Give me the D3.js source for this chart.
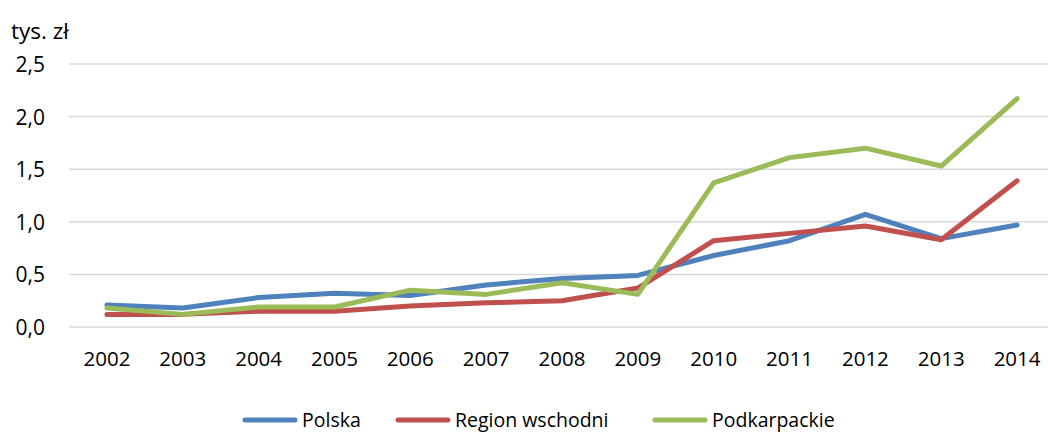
<!DOCTYPE html>
<html>
<head>
<meta charset="utf-8">
<script src="https://cdn.jsdelivr.net/npm/d3@7"></script>
<style>
  body { margin: 0; background: #fff; }
  text { font-family: "Open Sans", "Noto Sans", sans-serif; fill: #000; }
</style>
</head>
<body>
<svg id="chart" width="1048" height="432"></svg>
<script>
const years = ["2002","2003","2004","2005","2006","2007","2008","2009","2010","2011","2012","2013","2014"];
const polska = [0.21, 0.18, 0.28, 0.32, 0.30, 0.40, 0.46, 0.49, 0.68, 0.82, 1.07, 0.84, 0.97];
const regionWschodni = [0.12, 0.12, 0.15, 0.15, 0.20, 0.23, 0.25, 0.37, 0.82, 0.89, 0.96, 0.83, 1.39];
const podkarpackie = [0.18, 0.12, 0.19, 0.19, 0.35, 0.31, 0.42, 0.31, 1.37, 1.61, 1.70, 1.53, 2.17];
const yTicks = [0, 0.5, 1.0, 1.5, 2.0, 2.5];

const series = [
  { name: "Polska", values: polska, color: "#4F81BD" },
  { name: "Region wschodni", values: regionWschodni, color: "#C0504D" },
  { name: "Podkarpackie", values: podkarpackie, color: "#9BBB59" }
];

const svg = d3.select("#chart");
const plotLeft = 69, plotRight = 1055, plotTop = 64, plotBottom = 327;

const x = d3.scaleBand().domain(years).range([plotLeft, plotRight]);
const y = d3.scaleLinear().domain([0, 2.5]).range([plotBottom, plotTop]);
const fmt = d => d3.format(".1f")(d).replace(".", ",");

// gridlines
svg.append("g")
  .selectAll("line")
  .data(yTicks)
  .join("line")
  .attr("x1", plotLeft).attr("x2", 1048)
  .attr("y1", d => y(d)).attr("y2", d => y(d))
  .attr("stroke", "#D9D9D9")
  .attr("stroke-width", 1.5);

// y labels
svg.append("g")
  .selectAll("text")
  .data(yTicks)
  .join("text")
  .attr("x", 45)
  .attr("y", d => y(d) + 8)
  .attr("text-anchor", "end")
  .style("font-size", "21px")
  .text(fmt);

// x labels
svg.append("g")
  .selectAll("text")
  .data(years)
  .join("text")
  .attr("x", d => x(d) + x.bandwidth() / 2)
  .attr("y", 366)
  .attr("text-anchor", "middle")
  .style("font-size", "20.5px")
  .text(d => d);

svg.append("text")
  .attr("x", 11).attr("y", 39)
  .style("font-size", "22.5px")
  .text("tys. zł");

const line = d3.line()
  .x((d, i) => x(years[i]) + x.bandwidth() / 2)
  .y(d => y(d));

svg.append("g")
  .selectAll("path")
  .data(series)
  .join("path")
  .attr("d", d => line(d.values))
  .attr("fill", "none")
  .attr("stroke", d => d.color)
  .attr("stroke-width", 5)
  .attr("stroke-linejoin", "round")
  .attr("stroke-linecap", "round");

// legend
const legendX = [245, 398, 655];
const leg = svg.append("g")
  .selectAll("g")
  .data(series)
  .join("g")
  .attr("transform", (d, i) => "translate(" + legendX[i] + ",420)");
leg.append("line")
  .attr("x1", 0).attr("x2", 50)
  .attr("y1", 0).attr("y2", 0)
  .attr("stroke", d => d.color)
  .attr("stroke-width", 5)
  .attr("stroke-linecap", "round");
leg.append("text")
  .attr("x", 57).attr("y", 7)
  .style("font-size", "19.5px")
  .text(d => d.name);
</script>
</body>
</html>
